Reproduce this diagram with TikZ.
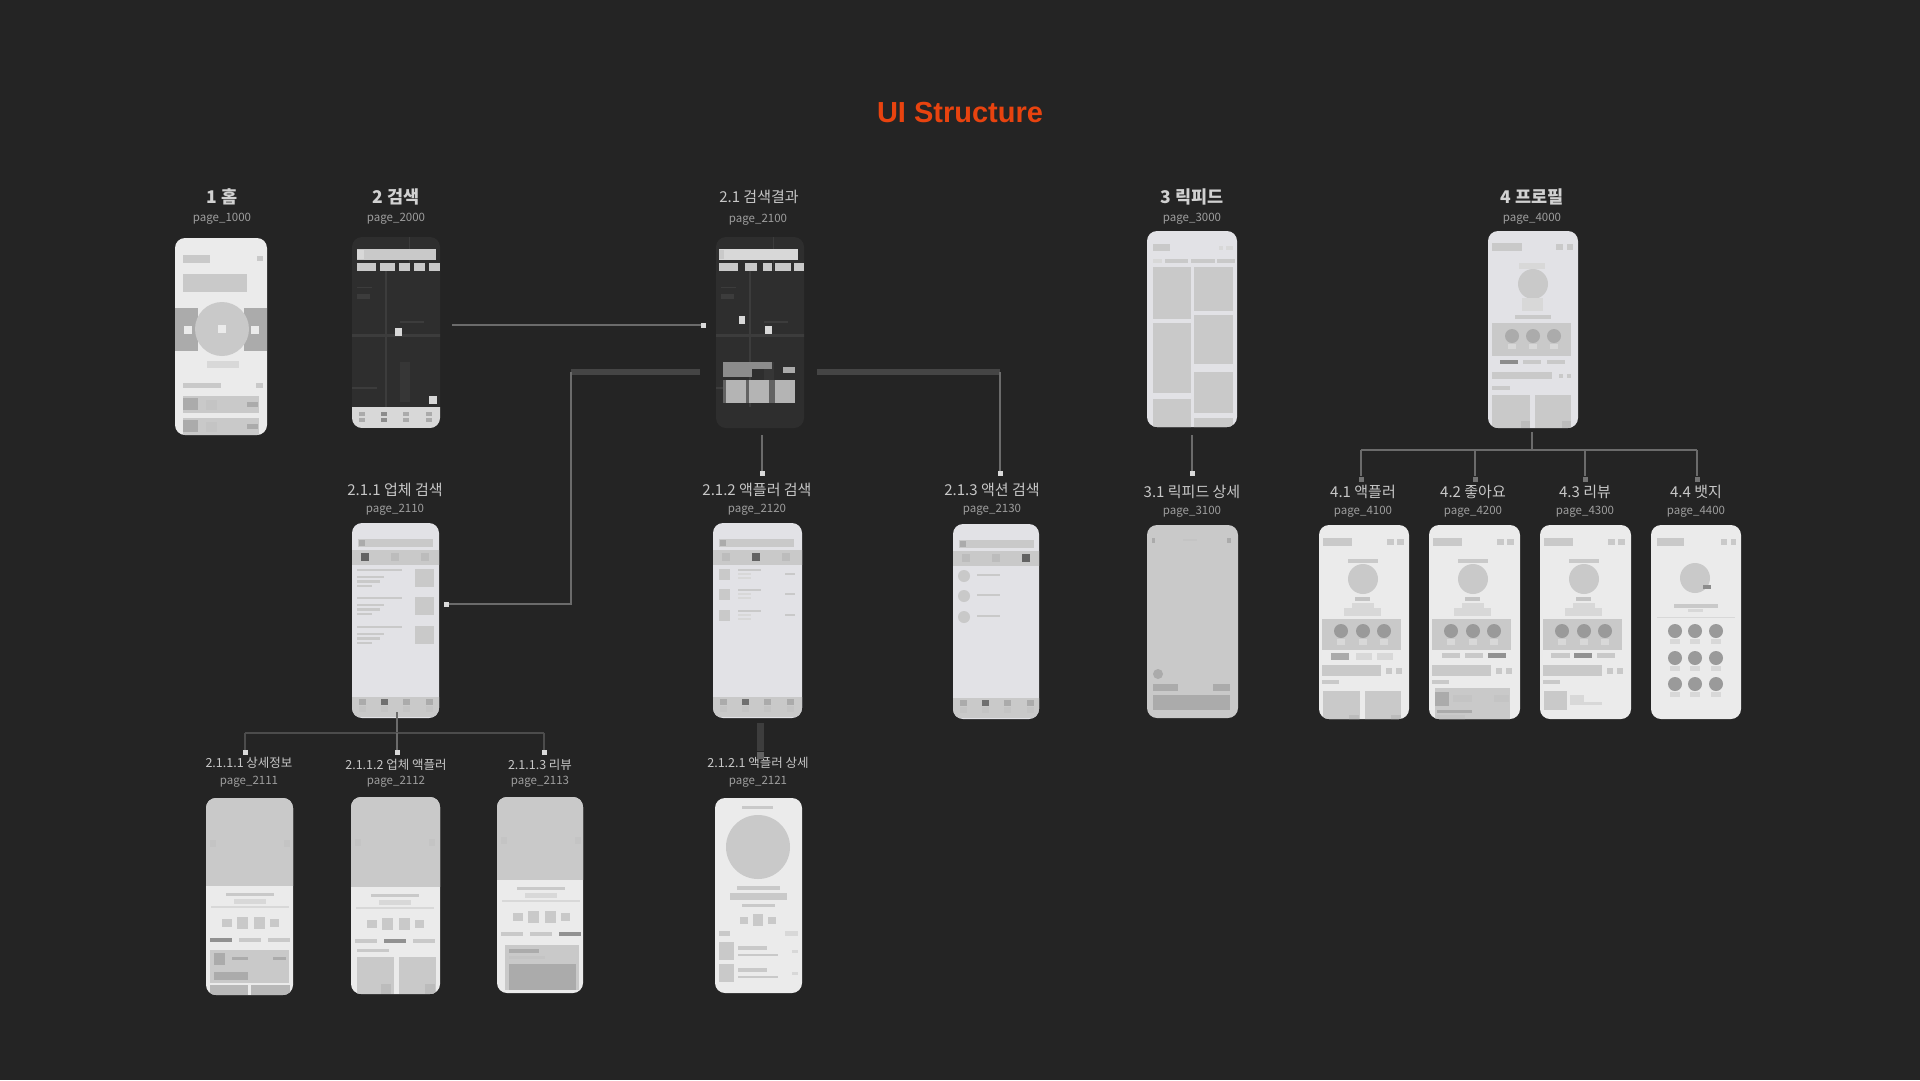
\documentclass[tikz,border=0pt]{standalone}
\usepackage{fontspec}
\setmainfont{Noto Sans CJK KR}
\newfontfamily\titlefont{Liberation Sans}
\definecolor{bgc}{HTML}{242424}
\definecolor{ph}{HTML}{EBEBEB}
\definecolor{phb}{HTML}{E2E2E6}
\definecolor{g1}{HTML}{C9C9C9}
\definecolor{g2}{HTML}{ABABAB}
\definecolor{g3}{HTML}{8C8C8C}
\definecolor{g4}{HTML}{D8D8D8}
\definecolor{mapc}{HTML}{2E2E2E}
\definecolor{mapl}{HTML}{3C3C3C}
\definecolor{orangec}{HTML}{E8430F}
\tikzset{
  phonebox/.style={rounded corners=10pt,inner sep=0pt,outer sep=0pt},
  lab1/.style={text=white!82!black,font=\fontsize{17.5}{19}\selectfont\bfseries,inner sep=0pt},
  lab2/.style={text=white!78!black,font=\fontsize{15}{17}\selectfont,inner sep=0pt},
  lab3/.style={text=white!78!black,font=\fontsize{12.5}{14}\selectfont,inner sep=0pt},
  pagelab/.style={text=white!62!black,font=\fontsize{11.5}{13}\selectfont,inner sep=0pt},
  conn/.style={draw=white!42!black,line width=2.4pt},
  connthick/.style={draw=white!27!black,line width=6.5pt},
  headmark/.style={fill=white!85!black,minimum size=5pt,inner sep=0pt,outer sep=0pt},
}
\newcommand{\RR}[5]{\fill[#5] (#1,#2) rectangle (#3,#4);}
\newcommand{\CC}[4]{\fill[#4] (#1,#2) circle[radius=#3pt];}
% name x1 y1 x2 y2 bg content
\newcommand{\Phone}[7]{%
  \pgfmathsetmacro{\pcx}{(#2+#4)/2}\pgfmathsetmacro{\pcy}{(#3+#5)/2}%
  \pgfmathsetmacro{\pw}{#4-#2}\pgfmathsetmacro{\ph}{#5-#3}%
  \node[phonebox,fill=#6,minimum width=\pw pt,minimum height=\ph pt] (#1) at (\pcx,\pcy) {};
  \begin{scope}[shift={(#2,#3)}]
    \clip[rounded corners=10pt] (0,0) rectangle (\pw,\ph);
    #7
  \end{scope}}
\newcommand{\ProfileTop}{%
  \RR{4}{13}{33}{21}{g1}\RR{68}{14}{75}{20}{g1}\RR{78}{14}{85}{20}{g1}
  \RR{29}{34}{59}{38}{g1}\CC{44}{54}{15}{g1}\RR{36}{72}{51}{76}{g2!70!white}
  \RR{33}{78}{55}{83}{g4}\RR{25}{83}{62}{91}{g4}
  \RR{3}{94}{82}{125}{g1}
  \CC{22}{106}{7}{g2!90!black}\CC{44}{106}{7}{g2!90!black}\CC{65}{106}{7}{g2!90!black}
  \RR{18}{114}{26}{120}{g4}\RR{40}{114}{48}{120}{g4}\RR{61}{114}{69}{120}{g4}
  \RR{3}{140}{62}{151}{g1}\RR{67}{143}{73}{149}{g1}\RR{77}{143}{83}{149}{g1}
  \RR{3}{155}{20}{159}{g1}}
\newcommand{\NavBar}[2]{% y-top, dark index
  \RR{0}{#1}{100}{#1+20}{g1}
  \foreach \ix/\vx in {1/10,2/32,3/54,4/77}{
    \ifnum\ix=#2 \RR{\vx-3.5}{#1+2}{\vx+3.5}{#1+8}{g3!80!black}\else\RR{\vx-3.5}{#1+2}{\vx+3.5}{#1+8}{g2}\fi
    \RR{\vx-3.5}{#1+9}{\vx+3.5}{#1+15}{g2!70!white}}}
\newcommand{\TopTabs}[1]{%
  \RR{6}{16}{81}{24}{g1}\RR{7}{17}{13}{23}{g2}
  \RR{0}{27}{100}{42}{g1}
  \foreach \ix/\vx in {1/13,2/43,3/73}{
    \ifnum\ix=#1 \RR{\vx-4}{30}{\vx+4}{38}{g3!70!black}\else\RR{\vx-4}{30}{\vx+4}{38}{g2!80!white}\fi}}
\newcommand{\DetailTop}[4]{% image bottom, dy, tab index, arrowy
  \RR{0}{0}{100}{#1}{g1}
  \RR{4}{#4}{10}{#4+7}{g2!70!white}\RR{78}{#4}{84}{#4+7}{g2!70!white}
  \RR{20}{#1+7}{68}{#1+10}{g1}\RR{28}{#1+13}{60}{#1+18}{g4}\RR{5}{#1+20}{83}{#1+22}{g4}
  \RR{16}{#1+33}{26}{#1+41}{g1}\RR{31}{#1+31}{42}{#1+43}{g1}\RR{48}{#1+31}{59}{#1+43}{g1}\RR{64}{#1+33}{73}{#1+41}{g1}
  \foreach \ix/\vx in {1/4,2/33,3/62}{
    \ifnum\ix=#3 \RR{\vx}{#1+52}{\vx+22}{#1+56}{g2!85!black}\else\RR{\vx}{#1+52}{\vx+22}{#1+56}{g1}\fi}}
\newcommand{\MapBase}{%
  \RR{33}{34}{35}{170}{mapl}\RR{0}{97}{100}{100}{mapl}\RR{57}{0}{58}{34}{mapl}
  \RR{48}{125}{58}{165}{mapl!60!mapc}\RR{0}{150}{25}{152}{mapl}\RR{5}{50}{20}{51}{mapl}\RR{5}{57}{18}{62}{mapl}\RR{48}{84}{72}{86}{mapl}}
\begin{document}
\begin{tikzpicture}[x=1pt,y=-1pt]
\useasboundingbox (0,0) rectangle (1920,1080);
\fill[bgc] (0,0) rectangle (1920,1080);
\node[text=orangec,font=\titlefont\fontsize{29}{32}\selectfont\bfseries,inner sep=0pt] (title) at (960,112.5) {UI Structure};

% ---------- labels
\foreach \nm/\px/\py/\st/\tx in {
  l1/222/197/lab1/{1 홈}, l2/396/197/lab1/{2 검색}, l21/759/197/lab2/{2.1 검색결과},
  l3/1192/197/lab1/{3 릭피드}, l4/1532/197/lab1/{4 프로필},
  l211/395/490/lab2/{2.1.1 업체 검색}, l212/757/490/lab2/{2.1.2 액플러 검색}, l213/992/490/lab2/{2.1.3 액션 검색},
  l31/1192/492/lab2/{3.1 릭피드 상세}, l41/1363/492/lab2/{4.1 액플러}, l42/1473/492/lab2/{4.2 좋아요},
  l43/1585/492/lab2/{4.3 리뷰}, l44/1696/492/lab2/{4.4 뱃지},
  l2111/249/763/lab3/{2.1.1.1 상세정보}, l2112/396/765/lab3/{2.1.1.2 업체 액플러}, l2113/540/765/lab3/{2.1.1.3 리뷰}, l2121/758/763/lab3/{2.1.2.1 액플러 상세}}
  {\node[\st] (\nm) at (\px,\py) {\tx};}
\foreach \nm/\px/\py/\tx in {
  g1/222/219/page\_1000, g2/396/219/page\_2000, g21/758/220/page\_2100, g3/1192/219/page\_3000, g4/1532/219/page\_4000,
  g211/395/510/page\_2110, g212/757/510/page\_2120, g213/992/510/page\_2130, g31/1192/512/page\_3100,
  g41/1363/512/page\_4100, g42/1473/512/page\_4200, g43/1585/512/page\_4300, g44/1696/512/page\_4400,
  g2111/249/782/page\_2111, g2112/396/782/page\_2112, g2113/540/782/page\_2113, g2121/758/782/page\_2121}
  {\node[pagelab] (\nm) at (\px,\py) {\tx};}

% ---------- phones
\Phone{pa}{175}{238}{267}{435}{ph}{
  \RR{8}{17}{35}{25}{g1}\RR{82}{18}{88}{23}{g1}\RR{8}{36}{72}{54}{g1}
  \RR{0}{70}{23}{113}{g2}\RR{69}{70}{92}{113}{g2}\CC{47}{91}{27}{g1}
  \RR{9}{88}{17}{96}{ph}\RR{43}{87}{51}{95}{ph}\RR{76}{88}{84}{96}{ph}
  \RR{32}{123}{64}{130}{g4}\RR{8}{145}{46}{150}{g1}\RR{81}{145}{88}{150}{g1}
  \RR{8}{158}{84}{175}{g1}\RR{8}{160}{23}{172}{g2}\RR{31}{162}{42}{172}{g2!70!white}\RR{72}{164}{83}{169}{g2}
  \RR{8}{180}{84}{197}{g1}\RR{8}{182}{23}{194}{g2}\RR{31}{184}{42}{194}{g2!70!white}\RR{72}{186}{83}{191}{g2}}

\Phone{pb}{352}{237}{440}{428}{mapc}{
  \MapBase
  \RR{5}{12}{84}{23}{g1}\RR{5}{13}{12}{22}{g4}
  \RR{5}{26}{24}{34}{g1}\RR{28}{26}{43}{34}{g1}\RR{47}{26}{58}{34}{g1}\RR{62}{26}{73}{34}{g1}\RR{77}{26}{88}{34}{g1}
  \RR{43}{91}{50}{99}{g4}\RR{77}{159}{85}{167}{g4}
  \RR{0}{170}{100}{191}{g4}
  \RR{7}{175}{13}{179}{g2}\RR{29}{175}{35}{179}{g3}\RR{51}{175}{57}{179}{g2}\RR{74}{175}{80}{179}{g2}
  \RR{7}{181}{13}{185}{g2}\RR{29}{181}{35}{185}{g3}\RR{51}{181}{57}{185}{g2}\RR{74}{181}{80}{185}{g2}}

\Phone{pc}{716}{237}{804}{428}{mapc}{
  \MapBase
  \RR{3}{12}{82}{23}{g4}\RR{3}{13}{8}{22}{g1}
  \RR{3}{26}{22}{34}{g1}\RR{29}{26}{41}{34}{g1}\RR{47}{26}{56}{34}{g1}\RR{59}{26}{75}{34}{g1}\RR{78}{26}{88}{34}{g1}
  \RR{23}{79}{29}{87}{g4}\RR{49}{89}{56}{97}{g4}
  \RR{7}{125}{56}{132}{g3}\RR{7}{132}{36}{140}{g3}\RR{67}{130}{79}{136}{g2}
  \RR{7}{143}{79}{166}{g3!70!black}\RR{10}{143}{30}{166}{g2!90!white}\RR{33}{143}{53}{166}{g2!90!white}\RR{59}{143}{79}{166}{g2!90!white}}

\Phone{pd}{1147}{231}{1237}{427}{phb}{
  \RR{6}{13}{23}{20}{g1}\RR{72}{15}{76}{19}{g4}\RR{79}{15}{86}{19}{g4}
  \RR{6}{28}{15}{32}{g4}\RR{18}{28}{41}{32}{g1}\RR{44}{28}{68}{32}{g1}\RR{70}{28}{88}{32}{g1}
  \RR{6}{36}{44}{88}{g1}\RR{6}{92}{44}{162}{g1}\RR{6}{168}{44}{197}{g1}
  \RR{47}{36}{86}{80}{g1}\RR{47}{84}{86}{133}{g1}\RR{47}{141}{86}{182}{g1}\RR{47}{187}{86}{197}{g1}}

\Phone{pe}{1488}{231}{1578}{428}{phb}{
  \RR{4}{12}{34}{20}{g1}\RR{68}{13}{75}{19}{g1}\RR{79}{13}{85}{19}{g1}
  \RR{31}{32}{57}{38}{g4}\CC{45}{53}{15}{g1}\RR{34}{67}{55}{80}{g4}\RR{27}{84}{63}{88}{g1}
  \RR{4}{92}{83}{125}{g1}\CC{24}{105}{7}{g2}\CC{45}{105}{7}{g2}\CC{66}{105}{7}{g2}
  \RR{20}{113}{28}{118}{g4}\RR{41}{113}{49}{118}{g4}\RR{62}{113}{70}{118}{g4}
  \RR{12}{129}{30}{133}{g3}\RR{35}{129}{53}{133}{g1}\RR{59}{129}{77}{133}{g1}
  \RR{4}{141}{64}{148}{g1}\RR{71}{143}{75}{147}{g1}\RR{79}{143}{83}{147}{g1}\RR{4}{155}{22}{159}{g1}
  \RR{4}{164}{42}{197}{g1}\RR{47}{164}{83}{197}{g1}\RR{33}{190}{42}{197}{g2!80!white}\RR{74}{190}{83}{197}{g2!80!white}}

\Phone{pf}{352}{523}{439}{718}{phb}{
  \TopTabs{1}
  \foreach \dy in {0,28,57}{
    \RR{5}{46+\dy}{50}{48+\dy}{g1}\RR{5}{53+\dy}{32}{55+\dy}{g1}\RR{5}{57+\dy}{28}{60+\dy}{g1}\RR{5}{62+\dy}{20}{64+\dy}{g1}\RR{63}{46+\dy}{82}{64+\dy}{g1}}
  \NavBar{174}{2}}

\Phone{pg}{713}{523}{802}{718}{phb}{
  \TopTabs{2}
  \foreach \dy in {0,20,41}{
    \RR{6}{46+\dy}{17}{57+\dy}{g1}\RR{25}{46+\dy}{48}{48+\dy}{g1}\RR{25}{50+\dy}{38}{52+\dy}{g4}\RR{25}{54+\dy}{38}{56+\dy}{g4}\RR{72}{50+\dy}{82}{52+\dy}{g1}}
  \NavBar{174}{2}}

\Phone{ph}{953}{524}{1039}{719}{phb}{
  \TopTabs{3}
  \foreach \dy in {0,20,41}{
    \CC{11}{52+\dy}{6}{g1}\RR{24}{50+\dy}{47}{52+\dy}{g1}}
  \NavBar{174}{2}}

\Phone{pi}{1147}{525}{1238}{718}{g1}{
  \RR{5}{13}{8}{18}{g2}\RR{80}{13}{84}{18}{g2}\RR{36}{14}{50}{16}{g2!70!white}
  \CC{11}{149}{5}{g2}\RR{6}{159}{31}{166}{g2}\RR{66}{159}{83}{166}{g2}\RR{6}{170}{83}{185}{g2}}

\Phone{pj}{1319}{525}{1409}{719}{ph}{
  \ProfileTop
  \RR{12}{128}{30}{135}{g2}\RR{37}{128}{53}{135}{g4}\RR{58}{128}{74}{135}{g4}
  \RR{4}{166}{41}{197}{g1}\RR{46}{166}{82}{197}{g1}\RR{30}{190}{40}{197}{g2!80!white}\RR{72}{190}{82}{197}{g2!80!white}}

\Phone{pk}{1429}{525}{1520}{719}{ph}{
  \ProfileTop
  \RR{13}{128}{31}{133}{g1}\RR{36}{128}{54}{133}{g1}\RR{59}{128}{77}{133}{g2!85!black}
  \RR{6}{163}{81}{197}{g1}\RR{6}{167}{20}{181}{g2}\RR{24}{170}{43}{177}{g2!70!white}\RR{65}{170}{80}{177}{g2!70!white}
  \RR{8}{185}{43}{188}{g2}\RR{8}{190}{36}{197}{g2!70!white}}

\Phone{pl}{1540}{525}{1631}{719}{ph}{
  \ProfileTop
  \RR{11}{128}{30}{133}{g1}\RR{34}{128}{52}{133}{g2!85!black}\RR{57}{128}{75}{133}{g1}
  \RR{4}{166}{27}{185}{g1}\RR{30}{170}{44}{177}{g4}\RR{30}{177}{62}{180}{g4}}

\Phone{pm}{1651}{525}{1741}{719}{ph}{
  \RR{6}{13}{33}{21}{g1}\RR{70}{14}{76}{20}{g1}\RR{80}{14}{85}{20}{g1}
  \CC{44}{53}{15}{g1}\RR{52}{60}{60}{64}{g3}\RR{23}{79}{67}{83}{g1}\RR{37}{84}{52}{87}{g4}\RR{6}{92}{84}{93}{g4}
  \foreach \vy in {106,133,159}{\foreach \vx in {24,44,65}{
    \CC{\vx}{\vy}{7}{g2!90!black}\RR{\vx-5}{\vy+8}{\vx+5}{\vy+13}{g4}}}}

\Phone{pn}{206}{798}{293}{995}{ph}{
  \DetailTop{88}{0}{1}{42}
  \RR{4}{152}{83}{185}{g1}\RR{8}{155}{19}{167}{g2}\RR{26}{159}{42}{162}{g2}\RR{67}{159}{80}{162}{g2}\RR{8}{174}{42}{182}{g2}
  \RR{4}{187}{42}{197}{g2!85!white}\RR{45}{187}{84}{197}{g2!85!white}}

\Phone{po}{351}{797}{440}{994}{ph}{
  \DetailTop{90}{0}{2}{42}
  \RR{6}{152}{38}{155}{g1}\RR{6}{160}{43}{197}{g1}\RR{48}{160}{85}{197}{g1}\RR{30}{187}{40}{197}{g2!80!white}\RR{74}{187}{84}{197}{g2!80!white}}

\Phone{pp}{497}{797}{583}{993}{ph}{
  \DetailTop{83}{0}{3}{40}
  \RR{8}{148}{82}{193}{g1}\RR{12}{152}{42}{156}{g2}\RR{12}{159}{48}{162}{g2!70!white}\RR{12}{167}{79}{193}{g2}}

\Phone{pq}{715}{798}{802}{993}{ph}{
  \RR{27}{8}{58}{11}{g1}\CC{43}{49}{32}{g1}\RR{22}{88}{65}{92}{g1}\RR{15}{95}{72}{102}{g1}\RR{27}{106}{60}{109}{g1}
  \RR{25}{119}{33}{126}{g1}\RR{38}{116}{48}{128}{g1}\RR{53}{119}{61}{126}{g1}
  \RR{4}{133}{15}{138}{g1}\RR{70}{133}{83}{138}{g4}
  \foreach \dy in {0,22}{
    \RR{4}{144+\dy}{19}{162+\dy}{g1}\RR{23}{148+\dy}{52}{152+\dy}{g1}\RR{23}{156+\dy}{63}{158+\dy}{g1}\RR{77}{152+\dy}{83}{155+\dy}{g4}}}

% ---------- connector anchors
\coordinate (s1) at (452,325);
\node[headmark] (h1) at (703,325) {};
\coordinate (tl) at (700,372);
\coordinate (cl) at (571,372);
\coordinate (cl2) at (571,604);
\node[headmark] (h2) at (446,604) {};
\coordinate (tr) at (817,372);
\coordinate (cr) at (1000,372);
\node[headmark] (h3) at (1000,473) {};
\coordinate (s4) at (762,435);
\node[headmark] (h4) at (762,473) {};
\coordinate (s5) at (760,723);
\node[fill=white!38!black,minimum size=7pt,inner sep=0pt] (h5) at (760,755) {};
\coordinate (s6) at (1192,435);
\node[headmark] (h6) at (1192,473) {};
\coordinate (s7) at (1532,432);
\coordinate (b7) at (1532,450);
\coordinate (b71) at (1361,450);\coordinate (b72) at (1475,450);\coordinate (b73) at (1585,450);\coordinate (b74) at (1697,450);
\node[fill=white!45!black,minimum size=5pt,inner sep=0pt] (h71) at (1361,479) {};
\node[fill=white!45!black,minimum size=5pt,inner sep=0pt] (h72) at (1475,479) {};
\node[fill=white!45!black,minimum size=5pt,inner sep=0pt] (h73) at (1585,479) {};
\node[fill=white!45!black,minimum size=5pt,inner sep=0pt] (h74) at (1697,479) {};
\coordinate (s8) at (397,712);
\coordinate (b8) at (397,733);
\coordinate (b81) at (245,733);\coordinate (b83) at (544,733);
\node[headmark] (h81) at (245,752) {};
\node[headmark] (h82) at (397,752) {};
\node[headmark] (h83) at (544,752) {};

% ---------- connectors
\draw[conn] (s1) -- (h1);
\draw[connthick] (tl) -- (cl);
\draw[conn] (cl) -- (cl2) -- (h2);
\draw[connthick] (tr) -- (cr);
\draw[conn] (cr) -- (h3);
\draw[conn] (s4) -- (h4);
\draw[draw=white!24!black,line width=7pt] (s5) -- (h5);
\draw[conn] (s6) -- (h6);
\draw[conn] (s7) -- (b7);
\draw[conn] (b71) -- (b74);
\foreach \a/\b in {b71/h71,b72/h72,b73/h73,b74/h74}{\draw[conn] (\a) -- (\b);}
\draw[conn] (s8) -- (b8);
\draw[draw=white!30!black,line width=2.4pt] (b81) -- (b83);
\draw[draw=white!30!black,line width=2.4pt] (b81) -- (h81);
\draw[conn] (b8) -- (h82);
\draw[draw=white!30!black,line width=2.4pt] (b83) -- (h83);
\end{tikzpicture}
\end{document}
